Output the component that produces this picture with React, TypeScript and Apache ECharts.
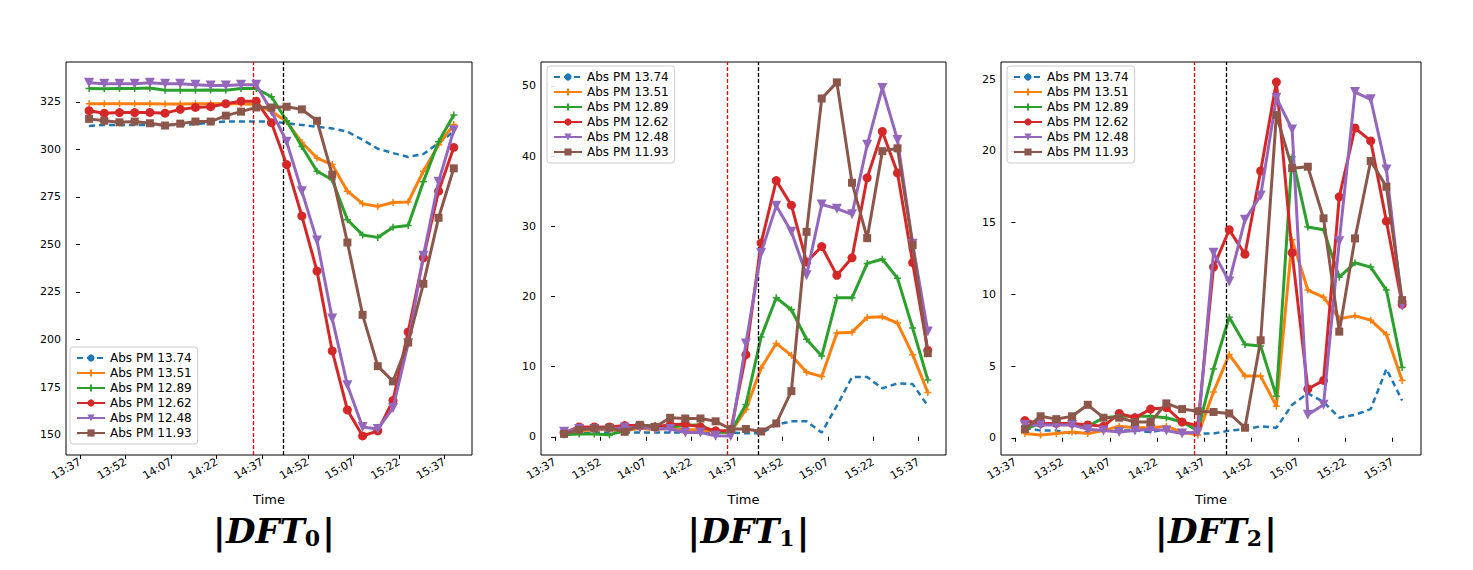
import React, { useEffect, useRef } from 'react';
import * as echarts from 'echarts';

// minutes after 13:37; samples every 5 min from 13:40
const sampleMinutes = Array.from({ length: 25 }, (_, i) => 3 + 5 * i);
const xTicks = [0, 15, 30, 45, 60, 75, 90, 105, 120];
const xTickLabels = ['13:37', '13:52', '14:07', '14:22', '14:37', '14:52', '15:07', '15:22', '15:37'];
const eventLines = [57, 67];

const seriesNames = ['Abs PM 13.74', 'Abs PM 13.51', 'Abs PM 12.89', 'Abs PM 12.62', 'Abs PM 12.48', 'Abs PM 11.93'];
const colors = ['#1f77b4', '#ff7f0e', '#2ca02c', '#d62728', '#9467bd', '#8c564b'];

const dft0 = [
  [312.3, 312.8, 312.8, 312.8, 312.8, 312.8, 312.8, 313.3, 314, 314.6, 314.6, 314.6, 314.6, 313.7, 312.8, 311.8, 311, 309.3, 305, 300.3, 298, 296, 297.5, 303.3, 309.3],
  [324, 324, 324, 324, 324, 323.8, 323.8, 324, 324, 324, 324, 323.6, 320, 314.6, 303.6, 295.4, 292, 278, 271.4, 270, 272, 272.3, 288.5, 302.4, 313],
  [332, 331.8, 332, 332, 332.2, 331, 331, 331, 331.2, 331, 332, 332, 327.6, 315, 301.5, 288.5, 284, 263, 255, 253.7, 259, 260, 283, 304, 318],
  [320.3, 319, 319.3, 319.3, 319.4, 319, 321, 322, 322.4, 324, 325.3, 325.3, 314, 292, 265, 236, 194, 163, 149.3, 152, 168, 204, 243, 278, 301],
  [335, 334.5, 334.5, 334.5, 335, 334.5, 334.5, 334, 333.5, 333.5, 334, 334, 320, 304, 278, 252, 211, 176, 154, 153, 164, 198, 244, 283, 310],
  [316, 315, 314.2, 314.6, 313.7, 312.5, 313.5, 314.6, 314.6, 317.7, 319.8, 322, 322, 322.4, 321, 315, 286.7, 251, 213, 186, 178, 198.4, 229.3, 264, 290],
];
const dft1 = [
  [0.4, 0.5, 0.6, 0.6, 0.6, 0.6, 0.6, 0.6, 0.6, 0.6, 0.6, 0.6, 0.5, 0.5, 1.7, 2.2, 2.2, 0.6, 4.4, 8.5, 8.5, 6.9, 7.6, 7.5, 4.4],
  [0.4, 0.85, 1, 1, 0.85, 1.2, 1, 1.2, 1, 1, 0.7, 0.6, 3.9, 9.8, 13.3, 11.6, 9.2, 8.6, 14.8, 14.9, 17, 17.1, 16.2, 11.7, 6.3],
  [0.3, 0.4, 0.4, 0.3, 0.85, 1.6, 1.6, 1.4, 1.6, 1.7, 0.6, 0.7, 4.6, 14.2, 19.8, 18.1, 13.9, 11.5, 19.8, 19.8, 24.7, 25.3, 22.6, 15.5, 8.1],
  [0.6, 1.4, 1.4, 1.4, 1.6, 1.6, 1.4, 1.7, 1.8, 1.4, 0.85, 0.85, 11.7, 27.6, 36.5, 33, 24.9, 27.1, 23, 25.5, 36.9, 43.5, 37.6, 24.8, 12.3],
  [0.7, 1.1, 1.1, 1.1, 1.3, 1.3, 1.2, 1.1, 0.6, 0.6, 0.15, 0.1, 13.3, 26.2, 32.9, 29.2, 23, 33.1, 32.5, 31.7, 41.6, 49.7, 42.3, 27.5, 15],
  [0.4, 1, 1.2, 1.3, 0.7, 1.7, 1.4, 2.7, 2.6, 2.6, 2.2, 1.1, 1.1, 0.75, 1.9, 6.5, 29.2, 48.2, 50.5, 36.2, 28.3, 40.7, 41.1, 27.3, 11.9],
];
const dft2 = [
  [0.7, 0.5, 0.5, 0.3, 0.4, 0.5, 0.5, 0.5, 0.4, 0.6, 0.4, 0.3, 0.3, 0.5, 0.6, 0.8, 0.7, 2.3, 3.1, 2.5, 1.4, 1.6, 2.0, 4.8, 2.6],
  [0.3, 0.2, 0.3, 0.4, 0.3, 0.5, 0.8, 0.7, 0.7, 0.8, 0.4, 0.2, 3.2, 5.8, 4.3, 4.3, 2.2, 13.8, 10.3, 9.8, 8.3, 8.5, 8.2, 7.2, 4.0],
  [0.6, 1.0, 1.0, 0.9, 0.8, 1.4, 1.5, 1.5, 1.5, 1.4, 1.1, 0.5, 4.8, 8.4, 6.5, 6.4, 2.9, 19.6, 14.7, 14.5, 11.2, 12.2, 11.9, 10.3, 4.9],
  [1.2, 1.0, 1.0, 1.0, 0.9, 0.8, 1.7, 1.4, 2.0, 2.1, 1.1, 0.85, 11.9, 14.5, 12.8, 18.6, 24.8, 12.9, 3.4, 4.0, 16.8, 21.6, 20.7, 15.1, 9.3],
  [0.9, 0.9, 0.9, 0.9, 0.6, 0.5, 0.4, 0.5, 0.6, 0.5, 0.3, 0.4, 12.9, 10.9, 15.2, 16.9, 23.7, 21.5, 1.6, 2.3, 13.7, 24.1, 23.6, 18.7, 9.2],
  [0.6, 1.5, 1.3, 1.5, 2.3, 1.4, 1.4, 1.1, 1.1, 2.4, 2.0, 1.85, 1.8, 1.7, 0.7, 6.8, 22.5, 18.8, 18.9, 15.3, 7.4, 13.9, 19.3, 17.5, 9.6],
];

const yTicks0 = [150, 175, 200, 225, 250, 275, 300, 325];
const yTicks1 = [0, 10, 20, 30, 40, 50];
const yTicks2 = [0, 5, 10, 15, 20, 25];

const panels = [
  { data: dft0, ticks: yTicks0, min: 139.3, max: 345.9, sub: '0', left: 66, width: 406, legend: { left: 70, top: 347 } },
  { data: dft1, ticks: yTicks1, min: -2.6, max: 53.4, sub: '1', left: 541, width: 405, legend: { left: 547, top: 66 } },
  { data: dft2, ticks: yTicks2, min: -1.2, max: 26.2, sub: '2', left: 1001, width: 420, legend: { left: 1007, top: 66 } },
];

const plus = 'path://M0,5L10,5M5,0L5,10';
const triDown = 'path://M0,0L10,0L5,9Z';
const symbols = ['none', plus, plus, 'circle', triDown, 'rect'];
const symbolSizes = [0, 7, 7, 9, 10, 8];

const font = 'DejaVu Sans';

const App: React.FC = () => {
  const chartRef = useRef<HTMLDivElement>(null);

  useEffect(() => {
    document.body.style.margin = '0';
    const chart = echarts.init(chartRef.current!, undefined, { renderer: 'svg' });

    const grid = panels.map((p) => ({
      left: p.left, width: p.width, top: 62, height: 393, show: true,
      borderColor: '#000', borderWidth: 1, backgroundColor: '#fff',
    }));
    const xAxis = panels.map((p, k) => ({
      type: 'value', gridIndex: k, min: -4.6, max: 129,
      name: 'Time', nameLocation: 'middle', nameGap: 38,
      nameTextStyle: { fontFamily: font, fontSize: 13, color: '#000' },
      splitLine: { show: false }, axisLine: { show: false },
      axisTick: { show: true, customValues: xTicks, length: 4, lineStyle: { color: '#000' } },
      axisLabel: {
        customValues: xTicks, rotate: 30, fontFamily: font, fontSize: 11, color: '#000', margin: 6,
        formatter: (v: number) => xTickLabels[xTicks.indexOf(Math.round(v))] ?? '',
      },
    }));
    const yAxis = panels.map((p, k) => ({
      type: 'value', gridIndex: k, min: p.min, max: p.max,
      splitLine: { show: false }, axisLine: { show: false },
      axisTick: { show: true, customValues: p.ticks, length: 4, lineStyle: { color: '#000' } },
      axisLabel: { customValues: p.ticks, fontFamily: font, fontSize: 11, color: '#000', margin: 5 },
    }));

    const series: any[] = [];
    panels.forEach((p, k) => {
      p.data.forEach((vals, s) => {
        const isPlus = symbols[s] === plus;
        series.push({
          type: 'line', name: seriesNames[s], xAxisIndex: k, yAxisIndex: k,
          data: vals.map((v, i) => [sampleMinutes[i], v]),
          symbol: symbols[s], symbolSize: symbolSizes[s], showSymbol: s !== 0,
          lineStyle: { color: colors[s], width: s === 0 ? 2.5 : 3, type: s === 0 ? [6, 4] : 'solid' },
          itemStyle: isPlus
            ? { color: colors[s], borderColor: colors[s], borderWidth: 1.5 }
            : { color: colors[s], borderWidth: 0 },
          color: colors[s],
          z: 2 + s,
          markLine: s === 0 ? {
            symbol: 'none', silent: true, label: { show: false },
            data: [
              { xAxis: eventLines[0], lineStyle: { color: '#ff0000', type: [4, 2], width: 1.3 } },
              { xAxis: eventLines[1], lineStyle: { color: '#000000', type: [4, 2], width: 1.3 } },
            ],
          } : undefined,
        });
      });
    });

    const legend = panels.map((p) => ({
      data: seriesNames, orient: 'vertical', left: p.legend.left, top: p.legend.top,
      itemGap: 3, itemWidth: 28, itemHeight: 9, padding: [5, 6, 5, 6],
      backgroundColor: 'rgba(255,255,255,0.85)', borderColor: '#cccccc', borderWidth: 1, borderRadius: 3,
      textStyle: { fontFamily: font, fontSize: 12, color: '#000' },
    }));

    const centers = panels.map((p) => p.left + p.width / 2);
    const title = panels.map((p, k) => ({
      text: `{a||}{b|DFT}{s|${p.sub}}{a||}`, left: centers[k], top: 508, textAlign: 'center',
      textStyle: {
        rich: {
          a: { fontFamily: 'DejaVu Serif', fontSize: 36, color: '#000' },
          b: { fontFamily: 'DejaVu Serif', fontStyle: 'italic', fontSize: 34, color: '#000' },
          s: { fontFamily: 'DejaVu Serif', fontSize: 22, color: '#000', verticalAlign: 'bottom', padding: [14, 2, 0, 0] },
        },
      },
    }));

    chart.setOption({ animation: false, backgroundColor: '#fff', title, grid, xAxis, yAxis, legend, series });

    return () => {
      chart.dispose();
    };
  }, []);

  return <div ref={chartRef} style={{ width: 1473, height: 570 }} />;
};

export default App;
